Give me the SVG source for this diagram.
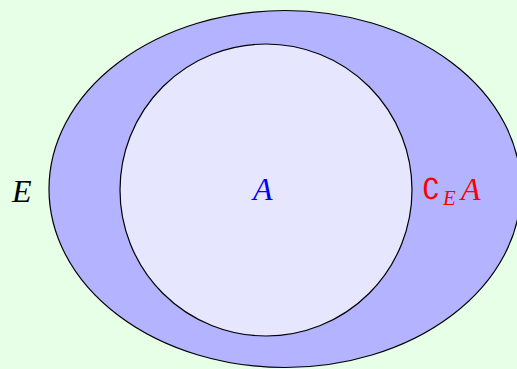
<svg xmlns="http://www.w3.org/2000/svg" width="517" height="369" viewBox="0 0 517 369">
<style>
.m{font-family:"Liberation Serif","DejaVu Serif",serif;font-style:italic;font-size:32px}
.s{stroke:#000;stroke-width:1.2}
</style>
<rect width="517" height="369" fill="#e6ffe6"/>
<g id="E">
<ellipse class="s" cx="285" cy="189" rx="236" ry="178.5" fill="#b3b3ff"/>
<text class="m" x="12" y="202" fill="#000">E</text>
</g>
<g id="A">
<circle class="s" cx="266" cy="190" r="146" fill="#e6e6ff"/>
<text class="m" x="253" y="200" fill="#0000ff">A</text>
</g>
<g id="complement">
<text x="422" y="199" fill="#ff0000" font-family="DejaVu Sans, sans-serif" font-size="29">∁</text>
<text class="m" x="443" y="205" fill="#ff0000" style="font-size:21px">E</text>
<text class="m" x="461" y="200" fill="#ff0000">A</text>
</g>
<g id="connectors"/>
</svg>
